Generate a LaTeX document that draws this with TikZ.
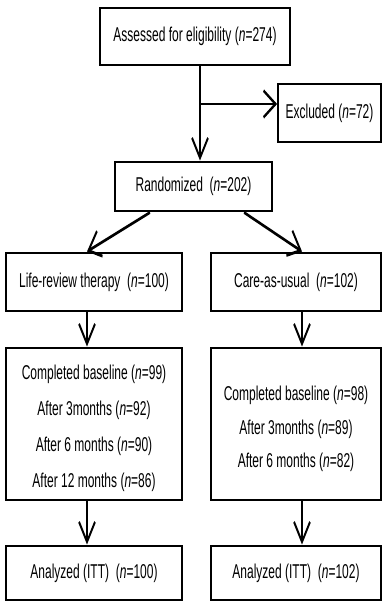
\documentclass[tikz,border=0pt]{standalone}
\usepackage{fontspec}
\setmainfont{Liberation Sans}
\usetikzlibrary{arrows.meta}
\begin{document}
\begin{tikzpicture}[x=0.75pt,y=-0.75pt]
\useasboundingbox (0,0) rectangle (383,602);
\begin{scope}[transform canvas={xscale=0.6},x=1.25pt,y=-0.75pt,
  box/.style={draw,line width=2.2pt,rectangle,inner sep=0pt,font=\fontsize{15}{27}\selectfont,align=center},
  arr/.style={line width=2.2pt,-{Straight Barb[length=15pt,width=20pt]}},
  ln/.style={line width=2.2pt}]
\node[box,minimum width=190*1.25pt,minimum height=57*0.75pt] (top) at (195,36.5) {Assessed for eligibility (\textit{n}=274)};
\node[box,minimum width=103*1.25pt,minimum height=58*0.75pt] (excl) at (329.5,113) {Excluded (\textit{n}=72)};
\node[box,minimum width=157*1.25pt,minimum height=49*0.75pt] (rnd) at (193.5,186.5) {Randomized\ \ (\textit{n}=202)};
\node[box,minimum width=176*1.25pt,minimum height=58*0.75pt] (life) at (94,282) {Life-review therapy\ \ (\textit{n}=100)};
\node[box,minimum width=170*1.25pt,minimum height=58*0.75pt] (care) at (296,282) {Care-as-usual\ \ (\textit{n}=102)};
\node[box,minimum width=176*1.25pt,minimum height=152*0.75pt] (cl) at (94,424) {};
\node[box,minimum width=170*1.25pt,minimum height=152*0.75pt] (cr) at (296,424) {};
\node[box,draw=none] (cltext) at (94,428) {Completed baseline (\textit{n}=99)\\After 3months (\textit{n}=92)\\After 6 months (\textit{n}=90)\\After 12 months (\textit{n}=86)};
\node[box,draw=none,font=\fontsize{15}{25}\selectfont] (crtext) at (296,429) {Completed baseline (\textit{n}=98)\\After 3months (\textit{n}=89)\\After 6 months (\textit{n}=82)};
\node[box,minimum width=176*1.25pt,minimum height=54*0.75pt] (al) at (94,573) {Analyzed (ITT)\ \ (\textit{n}=100)};
\node[box,minimum width=170*1.25pt,minimum height=54*0.75pt] (ar) at (296,573) {Analyzed (ITT)\ \ (\textit{n}=102)};
\coordinate (j) at (200,104);
\coordinate (rl) at (150,0);
\coordinate (rr) at (244,0);
\coordinate (xl) at (87,0);
\coordinate (xr) at (302,0);
\draw[ln] (top.south -| j) -- (j);
\draw[arr] (j) -- (j |- rnd.north);
\draw[arr] (j) -- (excl.west |- j);
\draw[arr] (rnd.south -| rl) -- (life.north -| xl);
\draw[arr] (rnd.south -| rr) -- (care.north -| xr);
\draw[arr] (life.south -| xl) -- (cl.north -| xl);
\draw[arr] (care.south -| xr) -- (cr.north -| xr);
\draw[arr] (cl.south -| xl) -- (al.north -| xl);
\draw[arr] (cr.south -| xr) -- (ar.north -| xr);
\end{scope}
\end{tikzpicture}
\end{document}
